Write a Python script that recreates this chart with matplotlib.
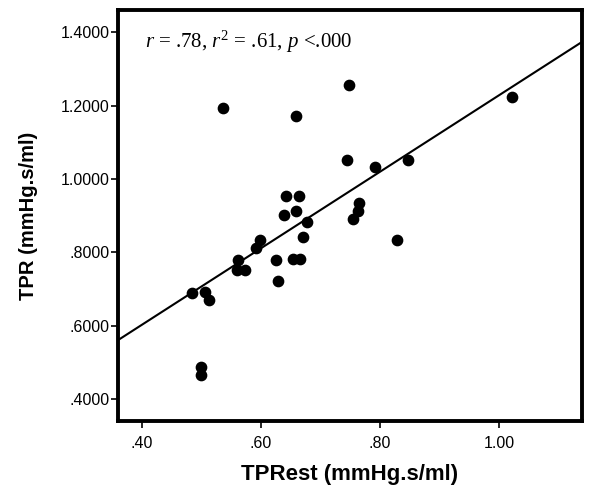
import numpy as np
import matplotlib.pyplot as plt
from matplotlib.ticker import FuncFormatter, MultipleLocator

plt.rcParams['font.family'] = 'Liberation Sans'
plt.rcParams['mathtext.fontset'] = 'custom'
plt.rcParams['mathtext.rm'] = 'Liberation Serif'
plt.rcParams['mathtext.it'] = 'Liberation Serif:italic'

# TPRest vs TPR
tp_rest = [0.484, 0.506, 0.513, 0.499, 0.499, 0.537, 0.562, 0.560, 0.573, 0.592,
           0.598, 0.625, 0.628, 0.638, 0.642, 0.658, 0.664, 0.678, 0.670, 0.654,
           0.666, 0.658, 0.748, 0.744, 0.754, 0.763, 0.765, 0.791, 0.847, 0.828,
           1.021]
tpr = [0.689, 0.691, 0.669, 0.487, 0.466, 1.193, 0.780, 0.751, 0.751, 0.812,
       0.833, 0.780, 0.721, 0.901, 0.953, 0.912, 0.953, 0.882, 0.841, 0.782,
       0.782, 1.173, 1.255, 1.052, 0.891, 0.912, 0.935, 1.032, 1.052, 0.833,
       1.223]

fig = plt.figure(figsize=(6, 4.97), dpi=100)
ax = fig.add_axes([0.1967, 0.1529, 0.7733, 0.8271])

ax.scatter(tp_rest, tpr, s=55, color='black', zorder=3)

k = np.polyfit(tp_rest, tpr, 1)
f = np.poly1d(k)
xl = np.array([0.36, 1.139])
ax.plot(xl, f(xl), color='black', lw=1.5)

ax.set_xlim(0.36, 1.139)
ax.set_ylim(0.34, 1.461)
ax.xaxis.set_major_locator(MultipleLocator(0.2))
ax.yaxis.set_major_locator(MultipleLocator(0.2))
ax.xaxis.set_major_formatter(FuncFormatter(lambda v, p: ('%.2f' % v).lstrip('0') if v < 1 else '%.2f' % v))
ax.yaxis.set_major_formatter(FuncFormatter(lambda v, p: ('%.4f' % v).lstrip('0') if v < 1 else '%.4f' % v))

for s in ax.spines.values():
    s.set_linewidth(2.8)
ax.tick_params(axis='both', direction='out', length=5, width=1.2, labelsize=11.5, colors='black')
ax.tick_params(axis='y', pad=1)
ax.tick_params(axis='x', pad=6)

ax.set_xlabel('TPRest (mmHg.s/ml)', fontsize=16, fontweight='bold', va='center')
ax.set_ylabel('TPR (mmHg.s/ml)', fontsize=14.5, fontweight='bold', va='center')
ax.xaxis.set_label_coords(0.5, -0.131)
ax.yaxis.set_label_coords(-0.192, 0.5)

ax.text(0.058, 0.955, r'$r$ = .78, $r^2$ = .61, $p$ <.000', transform=ax.transAxes,
        fontsize=15, family='Liberation Serif', va='top', ha='left')

fig.savefig('out.png')
